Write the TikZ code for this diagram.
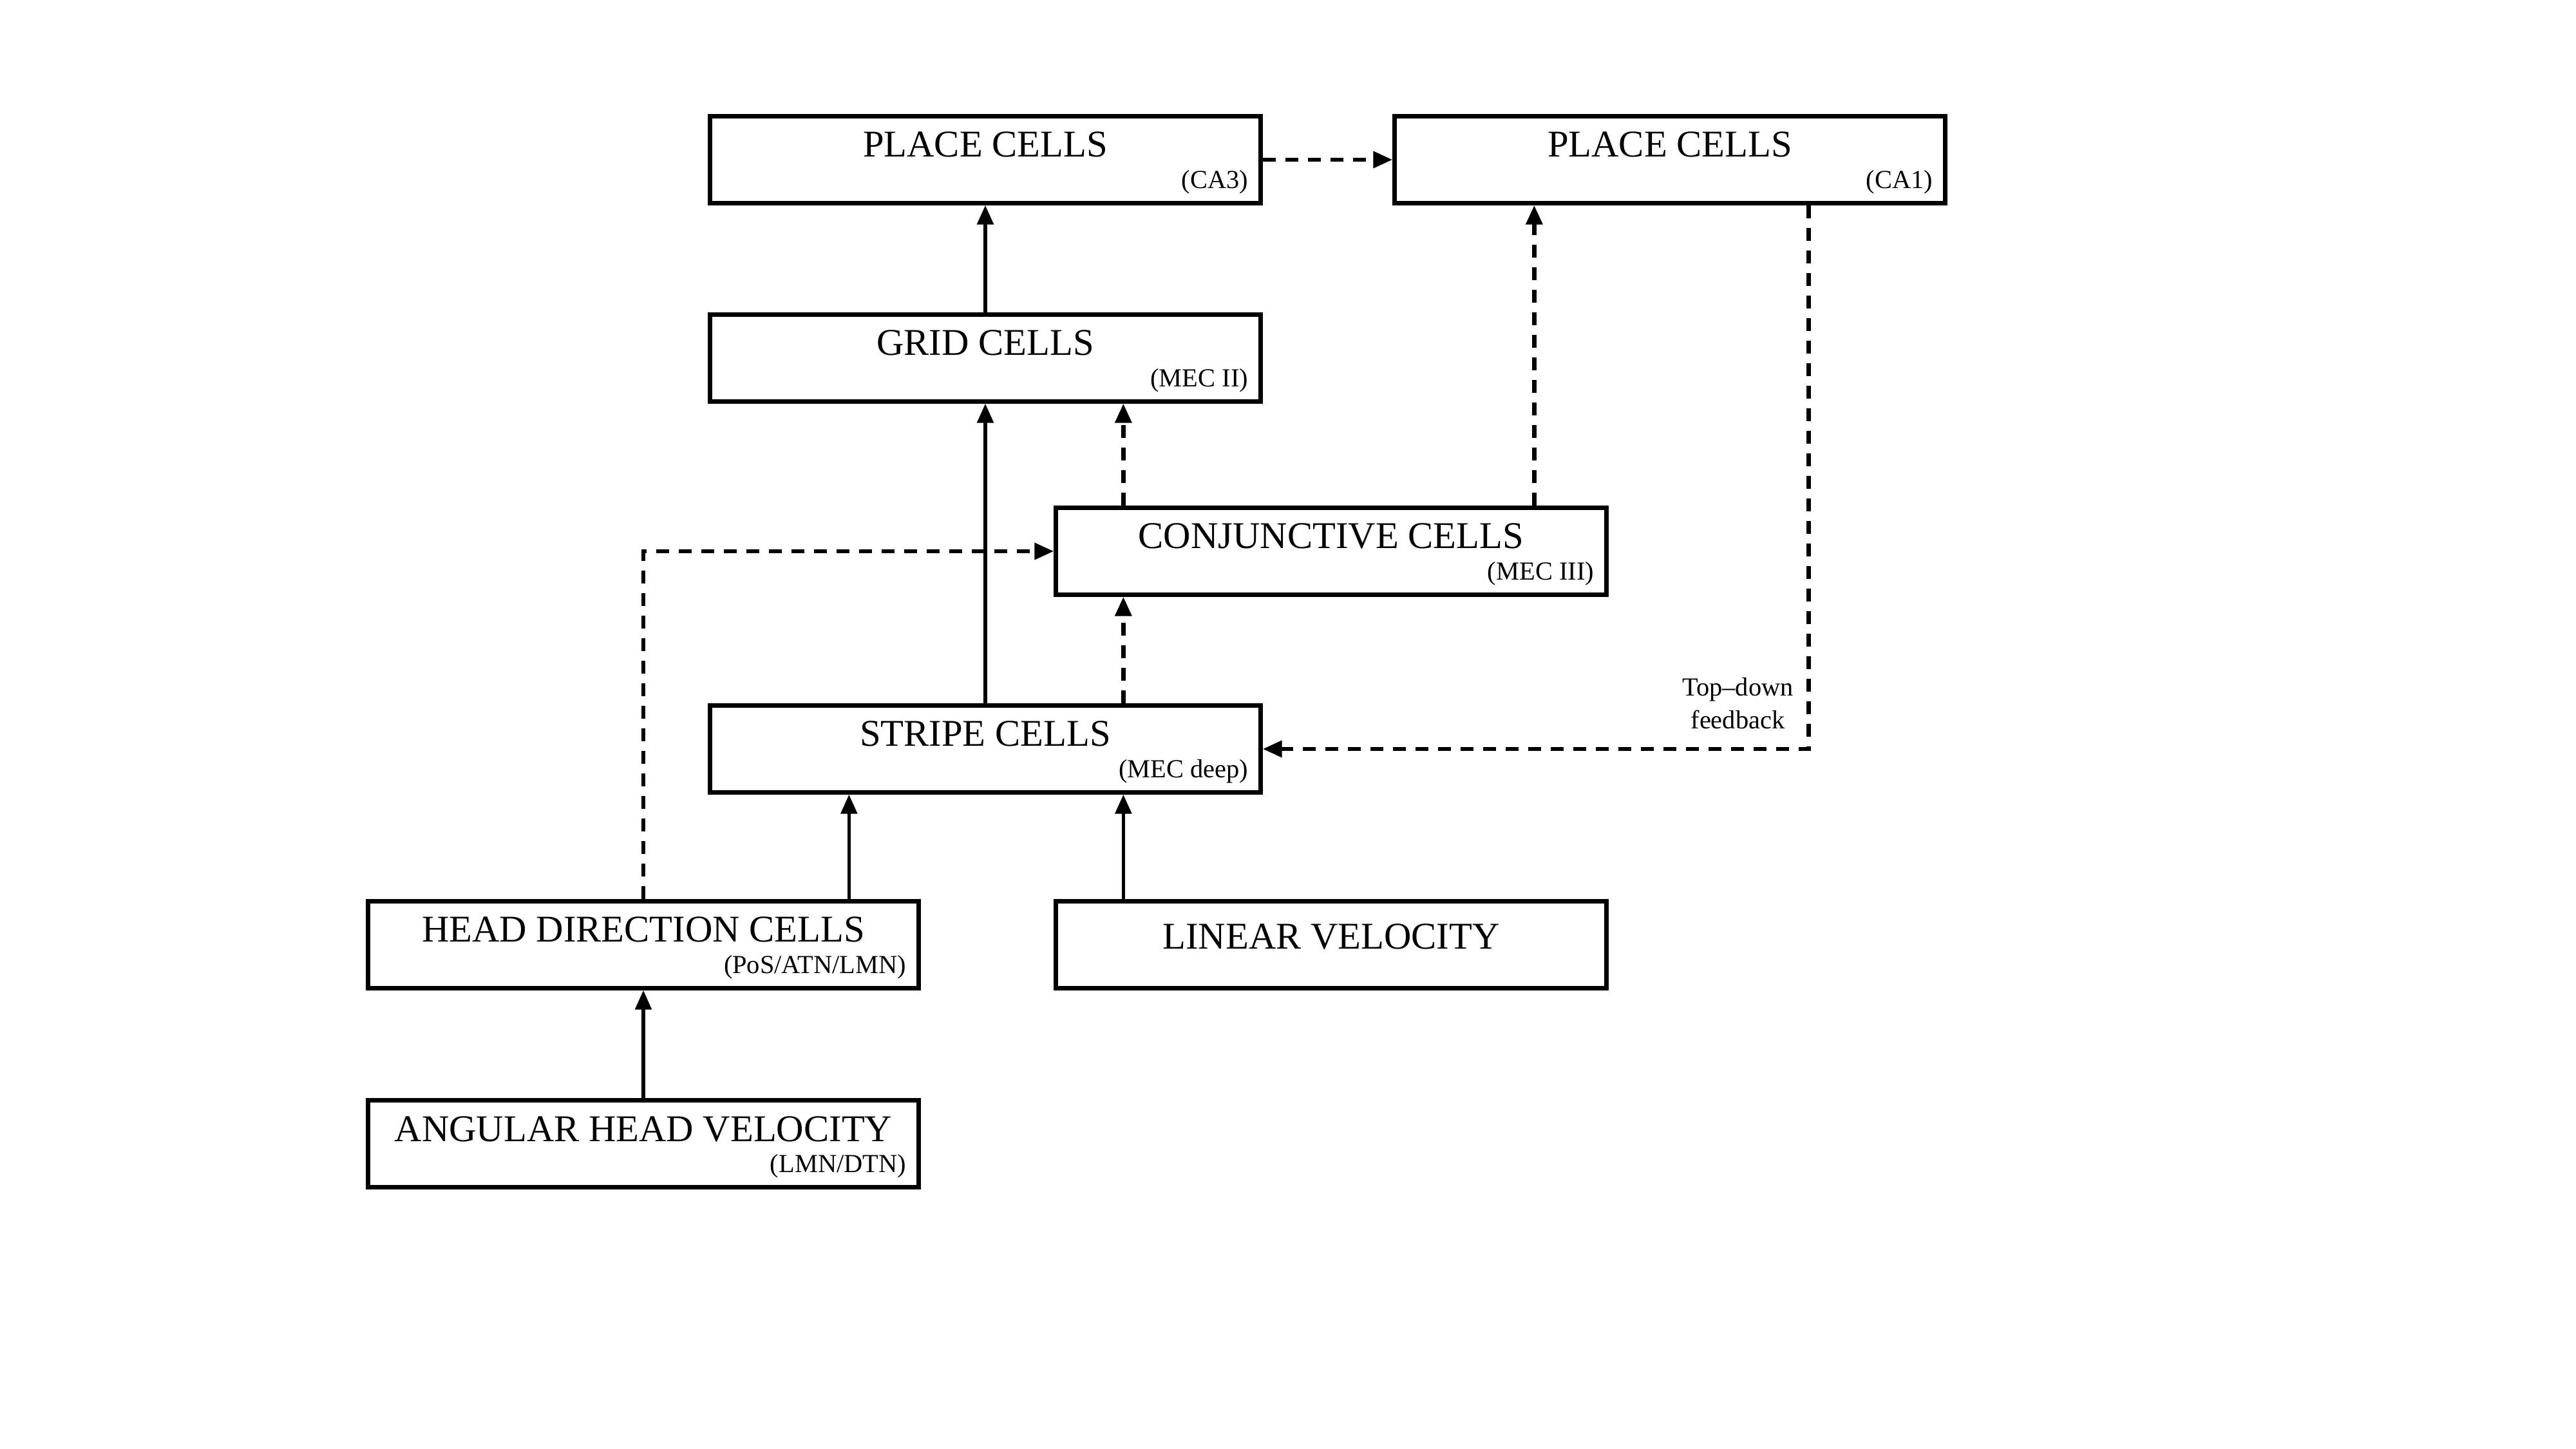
\documentclass[tikz,border=0pt]{standalone}
\usepackage{fontspec}
\setmainfont{Liberation Serif}
\usetikzlibrary{arrows.meta,positioning,calc}

\begin{document}
\begin{tikzpicture}[>={Triangle[length=0.3cm,width=0.25cm]}, node distance=3cm, on grid]

\tikzstyle{box}=[draw, line width=1.8pt, minimum width=8.55cm, minimum height=1.35cm, text height=0.4cm, text depth=0.48cm, font=\fontsize{16.7pt}{20pt}\selectfont]
\tikzstyle{sub}=[inner sep=0pt, anchor=base east, font=\fontsize{11.5pt}{14.5pt}\selectfont]
\tikzstyle{trans}=[->, line width=1.6pt]
\tikzstyle{dtrans}=[->, line width=1.9pt, dash pattern=on 0.2cm off 0.15cm]

\useasboundingbox (0,0) rectangle (40,-22.5);

\node[box] (ca3) at (15.3,-2.48) {PLACE CELLS};
\node[box, right=10.63cm of ca3] (ca1) {PLACE CELLS};
\node[box, below=3.08cm of ca3] (grid) {GRID CELLS};
\node[box, below right=3.0cm and 5.37cm of grid] (conj) {CONJUNCTIVE CELLS};
\node[box, below=6.07cm of grid] (stripe) {STRIPE CELLS};
\node[box, below left=3.04cm and 5.31cm of stripe] (hd) {HEAD DIRECTION CELLS};
\node[box, below=6.11cm of conj, text depth=0.27cm] (lv) {LINEAR VELOCITY};
\node[box, below=3.09cm of hd] (ahv) {ANGULAR HEAD VELOCITY};

\node[sub] (ca3s) at ($(ca3.south east)+(-0.22,0.26)$) {(CA3)};
\node[sub] (ca1s) at ($(ca1.south east)+(-0.22,0.26)$) {(CA1)};
\node[sub] (grids) at ($(grid.south east)+(-0.22,0.26)$) {(MEC II)};
\node[sub] (conjs) at ($(conj.south east)+(-0.22,0.26)$) {(MEC III)};
\node[sub] (stripes) at ($(stripe.south east)+(-0.22,0.26)$) {(MEC deep)};
\node[sub] (hds) at ($(hd.south east)+(-0.22,0.26)$) {(PoS/ATN/LMN)};
\node[sub] (ahvs) at ($(ahv.south east)+(-0.22,0.26)$) {(LMN/DTN)};

\coordinate (cx) at ($(conj.south west)+(1.08,0)$);
\coordinate (hx) at ($(hd.north west)+(7.5,0)$);
\coordinate (px) at ($(conj.north west)+(7.46,0)$);
\coordinate (fb) at ($(ca1.south west)+(6.46,0)$);

% feed-forward
\draw[trans] (grid.north) -- (ca3.south);
\draw[trans] (stripe.north) -- (grid.south);
\draw[trans] (hx) -- (hx |- stripe.south);
\draw[trans] (lv.north -| cx) -- (stripe.south -| cx);
\draw[trans] (ahv.north) -- (hd.south);

\draw[dtrans] (ca3.east) -- (ca1.west);
\draw[dtrans] (stripe.north -| cx) -- (cx);
\draw[dtrans] (conj.north -| cx) -- (grid.south -| cx);
\draw[dtrans] (px) -- (px |- ca1.south);
\draw[dtrans] (hd.north) |- (conj.west);

% feedback
\draw[dtrans] (fb) |- (stripe.east);
\node[sub, anchor=south east, align=center] (fbl) at ($(fb |- stripe.east)+(-0.23,0.3)$) {Top--down\\feedback};

\end{tikzpicture}
\end{document}
